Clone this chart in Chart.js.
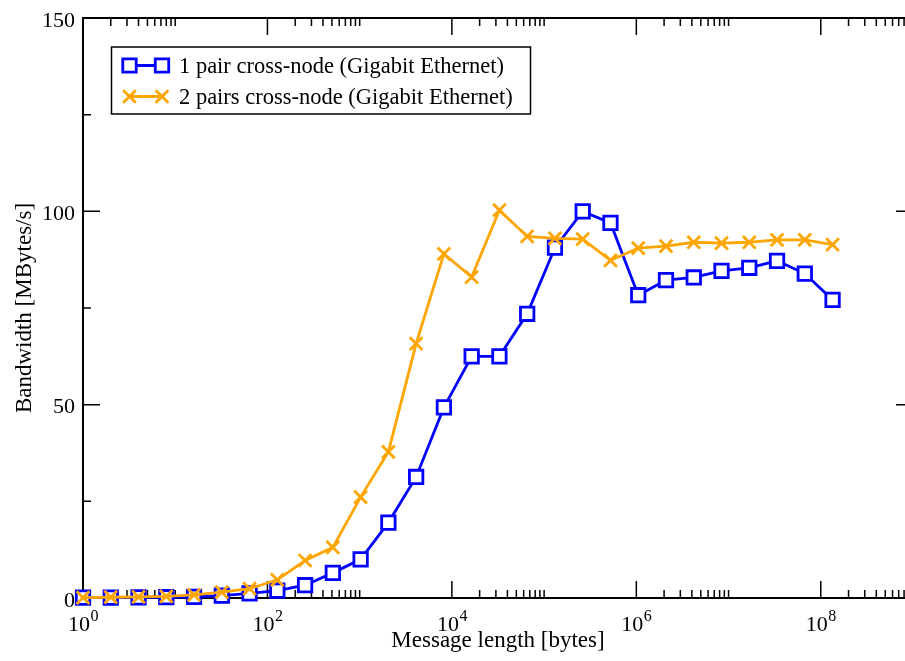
<!DOCTYPE html>
<html>
<head>
<meta charset="utf-8">
<script src="https://cdn.jsdelivr.net/npm/chart.js@4.4.1/dist/chart.umd.min.js"></script>
<style>
html, body { margin: 0; padding: 0; background: #fff; overflow: hidden; }
#wrap { position: absolute; left: 0; top: 0; }
</style>
</head>
<body>
<div id="wrap"><canvas id="myChart" width="920" height="661"></canvas></div>
<script>
// message sizes in bytes (x), bandwidth in MBytes/s (y)
var msgLength = [1, 2, 4, 8, 16, 32, 64, 128, 256, 512, 1024, 2048, 4096, 8192, 16384, 32768,
    65536, 131072, 262144, 524288, 1048576, 2097152, 4194304, 8388608, 16777216, 33554432,
    67108864, 134217728];
var onePair = [0.1, 0.1, 0.15, 0.2, 0.3, 0.6, 1.2, 1.9, 3.3, 6.5, 10.0, 19.5, 31.3, 49.3, 62.5, 62.5,
    73.5, 90.6, 100.0, 97.0, 78.3, 82.2, 82.9, 84.6, 85.4, 87.2, 83.9, 77.1];
var twoPairs = [0.1, 0.2, 0.3, 0.4, 0.8, 1.5, 2.4, 4.7, 9.7, 13.1, 26.1, 37.8, 65.8, 89.0, 83.0, 100.3,
    93.5, 93.0, 92.8, 87.3, 90.5, 91.0, 92.0, 91.8, 92.0, 92.6, 92.6, 91.4];
var seriesNames = ['1 pair cross-node (Gigabit Ethernet)', '2 pairs cross-node (Gigabit Ethernet)'];

var xTickExp = [0, 2, 4, 6, 8];
var xMinorMult = [2, 3, 4, 5, 6, 7, 8, 9, 10];
var yTicks = [0, 50, 100, 150];
var yMinorTicks = [25, 75, 125];

var serif = '"Liberation Serif", "Times New Roman", serif';

function pairs(xs, ys) {
    return xs.map(function (x, i) { return { x: x, y: ys[i] }; });
}

var axesPlugin = {
    id: 'xmgrAxes',
    beforeDatasetsDraw: function (chart) {
        var ctx = chart.ctx, a = chart.chartArea;
        var xs = chart.scales.x, ys = chart.scales.y;
        ctx.save();
        ctx.strokeStyle = '#000';
        ctx.lineWidth = 1.5;
        ctx.beginPath();
        function tickX(v, len) {
            var px = xs.getPixelForValue(v);
            if (px > a.right - 1) return;
            ctx.moveTo(px, a.bottom); ctx.lineTo(px, a.bottom - len);
            ctx.moveTo(px, a.top); ctx.lineTo(px, a.top + len);
        }
        function tickY(v, len) {
            var py = ys.getPixelForValue(v);
            ctx.moveTo(a.left, py); ctx.lineTo(a.left + len, py);
            ctx.moveTo(a.right, py); ctx.lineTo(a.right - len, py);
        }
        xTickExp.forEach(function (e) {
            tickX(Math.pow(10, e), 17);
            xMinorMult.forEach(function (m) { tickX(m * Math.pow(10, e), 8); });
        });
        yTicks.forEach(function (v) { tickY(v, 17); });
        yMinorTicks.forEach(function (v) { tickY(v, 8); });
        ctx.stroke();
        ctx.lineWidth = 2;
        ctx.strokeRect(a.left, a.top, a.right - a.left, a.bottom - a.top);
        ctx.restore();
    },
    afterDraw: function (chart) {
        var ctx = chart.ctx, a = chart.chartArea;
        var xs = chart.scales.x, ys = chart.scales.y;
        ctx.save();
        ctx.fillStyle = '#000';

        // x tick labels 10^n
        xTickExp.forEach(function (e) {
            var px = xs.getPixelForValue(Math.pow(10, e));
            ctx.font = '22px ' + serif;
            var w1 = ctx.measureText('10').width;
            ctx.font = '16px ' + serif;
            var w2 = ctx.measureText(String(e)).width;
            var x0 = px - (w1 + w2) / 2;
            ctx.textAlign = 'left';
            ctx.textBaseline = 'alphabetic';
            ctx.font = '22px ' + serif;
            ctx.fillText('10', x0, 631);
            ctx.font = '16px ' + serif;
            ctx.fillText(String(e), x0 + w1 + 0.5, 621);
        });

        // y tick labels
        ctx.font = '22px ' + serif;
        ctx.textAlign = 'right';
        yTicks.forEach(function (v) {
            ctx.fillText(String(v), 75, ys.getPixelForValue(v) + 8.5);
        });

        // axis titles
        ctx.font = '23px ' + serif;
        ctx.textAlign = 'center';
        ctx.fillText('Message length [bytes]', (a.left + a.right) / 2, 647);
        ctx.save();
        ctx.translate(31, (a.top + a.bottom) / 2);
        ctx.rotate(-Math.PI / 2);
        ctx.fillText('Bandwidth [MBytes/s]', 0, 0);
        ctx.restore();

        // legend box
        ctx.lineWidth = 1.5;
        ctx.strokeStyle = '#000';
        ctx.fillStyle = '#fff';
        ctx.fillRect(111.5, 47, 419, 67);
        ctx.strokeRect(111.5, 47, 419, 67);
        var rows = [65.5, 96.5];
        chart.data.datasets.forEach(function (ds, i) {
            var y = rows[i];
            ctx.strokeStyle = ds.borderColor;
            ctx.lineWidth = ds.borderWidth;
            ctx.beginPath();
            ctx.moveTo(129.5, y); ctx.lineTo(162, y);
            ctx.stroke();
            [129.5, 162].forEach(function (x) {
                ctx.fillStyle = ds.pointBackgroundColor;
                ctx.strokeStyle = ds.pointBorderColor;
                ctx.lineWidth = ds.pointBorderWidth;
                Chart.helpers.drawPoint(ctx, {
                    pointStyle: ds.pointStyle, radius: ds.pointRadius,
                    borderWidth: ds.pointBorderWidth, rotation: 0
                }, x, y);
            });
            ctx.fillStyle = '#000';
            ctx.font = '22.5px ' + serif;
            ctx.textAlign = 'left';
            ctx.textBaseline = 'alphabetic';
            ctx.fillText(ds.label, 179, y + 7);
        });
        ctx.restore();
    }
};

var ctx = document.getElementById('myChart');
var myChart = new Chart(ctx, {
    type: 'line',
    data: {
        datasets: [
            {
                label: seriesNames[0],
                data: pairs(msgLength, onePair),
                borderColor: '#0000ff',
                borderWidth: 2.8,
                pointStyle: 'rect',
                pointRadius: 9.5,
                pointBorderWidth: 2.8,
                pointBackgroundColor: '#ffffff',
                pointBorderColor: '#0000ff',
                tension: 0,
                clip: false,
                order: 1
            },
            {
                label: seriesNames[1],
                data: pairs(msgLength, twoPairs),
                borderColor: '#ffa500',
                borderWidth: 2.8,
                pointStyle: 'crossRot',
                pointRadius: 9,
                pointBorderWidth: 2.8,
                pointBackgroundColor: '#ffa500',
                pointBorderColor: '#ffa500',
                tension: 0,
                clip: false,
                order: 0
            }
        ]
    },
    options: {
        responsive: false,
        animation: false,
        layout: { autoPadding: false, padding: { left: 0, top: 18, right: 7, bottom: 0 } },
        plugins: { legend: { display: false }, tooltip: { enabled: false } },
        scales: {
            x: {
                type: 'logarithmic',
                min: 1,
                max: 1e9,
                ticks: { display: false },
                grid: { display: false },
                border: { display: false },
                afterFit: function (s) { s.height = 63; }
            },
            y: {
                type: 'linear',
                min: 0,
                max: 150,
                ticks: { display: false },
                grid: { display: false },
                border: { display: false },
                afterFit: function (s) { s.width = 83; }
            }
        }
    },
    plugins: [axesPlugin]
});
</script>
</body>
</html>
